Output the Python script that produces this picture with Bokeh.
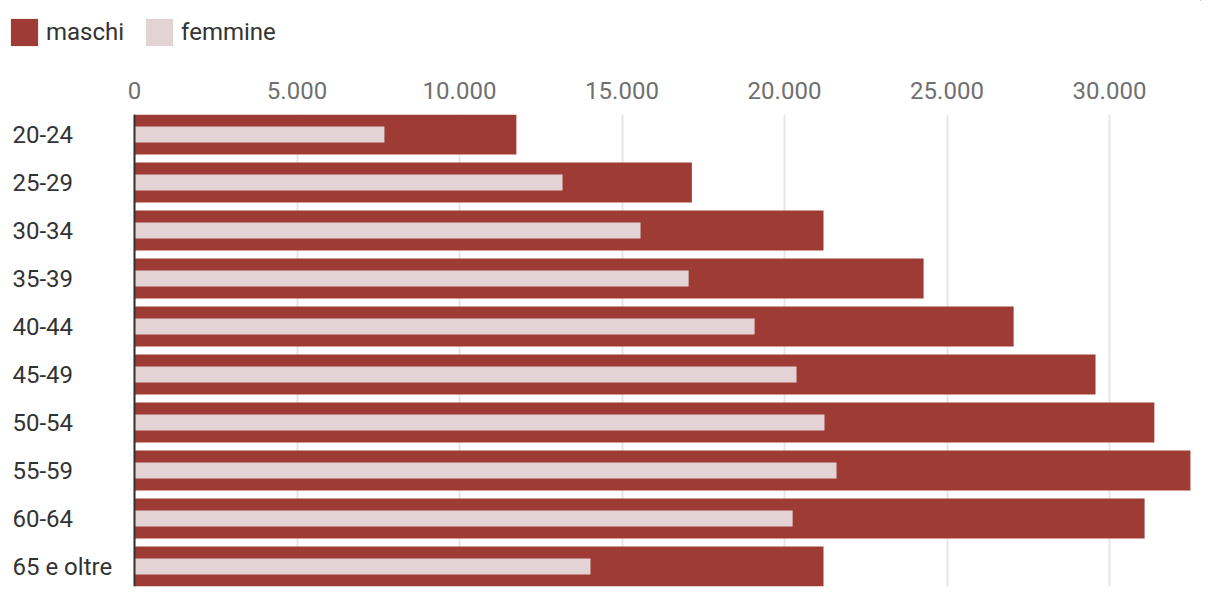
from bokeh.plotting import figure
from bokeh.models import (ColumnDataSource, Range1d, FixedTicker, Legend, LabelSet, Span)
from bokeh.layouts import column
from bokeh.core.properties import value
from bokeh.embed import file_html
from bokeh.resources import INLINE

# ---- data ----
categories = ["20-24", "25-29", "30-34", "35-39", "40-44",
              "45-49", "50-54", "55-59", "60-64", "65 e oltre"]
maschi = [11750, 17150, 21200, 24280, 27050, 29570, 31380, 32490, 31080, 21200]
femmine = [7690, 13170, 15570, 17050, 19080, 20370, 21230, 21600, 20250, 14030]
tick_values = [0, 5000, 10000, 15000, 20000, 25000, 30000]
tick_labels = ["0", "5.000", "10.000", "15.000", "20.000", "25.000", "30.000"]
series_names = ["maschi", "femmine"]

MASCHI_COLOR = "#9E3B34"
FEMMINE_COLOR = "#E4D3D4"
FONT = "Roboto"
FS = "24px"

# ---- layout constants (pixels) ----
W, H = 1220, 596
LEG_H = 60             # height of legend strip
ZERO_PX = 134          # where value 0 sits
RIGHT_PX = 1200        # right edge of plotting frame
PX_PER_UNIT = 0.0325
TOP, BOTTOM = 114, 586  # frame top / bottom in page pixels

n = len(categories)
source = ColumnDataSource(dict(
    y=list(range(n)),
    cat=categories,
    maschi=maschi,
    femmine=femmine,
))

# ---------- legend strip ----------
# ranges chosen so the bars themselves fall outside this strip; only the legend shows
leg = figure(width=W, height=LEG_H, x_range=Range1d(-2, -1), y_range=Range1d(-2, -1),
             x_axis_type=None, y_axis_type=None, output_backend="svg",
             toolbar_location=None, min_border=0)
leg.outline_line_color = None
leg.grid.visible = False
lr_m = leg.hbar(y="y", left=0, right="maschi", height=40 / 48, source=source,
                fill_color=MASCHI_COLOR, line_color=None)
lr_f = leg.hbar(y="y", left=0, right="femmine", height=16 / 48, source=source,
                fill_color=FEMMINE_COLOR, line_color=None)
# area legend glyphs are inset by 10% on each side -> 34px box gives ~27px square
legend = Legend(items=[(series_names[0], [lr_m]), (series_names[1], [lr_f])],
                orientation="horizontal", location=(7, LEG_H - 49),
                glyph_width=34, glyph_height=34, label_height=34,
                label_standoff=5, spacing=18, padding=0, margin=0,
                border_line_color=None, background_fill_alpha=0,
                label_text_font=FONT, label_text_font_size=FS,
                label_text_color="#333333")
leg.add_layout(legend)

# ---------- main chart ----------
MAIN_H = H - LEG_H
pad = (48 - 40) / 2 / 48
p = figure(
    width=W, height=MAIN_H,
    x_range=Range1d(-ZERO_PX / PX_PER_UNIT, (RIGHT_PX - ZERO_PX) / PX_PER_UNIT),
    y_range=Range1d(n - 1 + 0.5 - pad, -0.5 + pad),
    x_axis_location="above",
    output_backend="svg",
    toolbar_location=None,
    min_border_left=0, min_border_right=W - RIGHT_PX,
    min_border_top=TOP - LEG_H, min_border_bottom=H - BOTTOM,
)
p.outline_line_color = None
p.background_fill_color = "white"
p.border_fill_color = "white"

p.hbar(y="y", left=0, right="maschi", height=40 / 48, source=source,
       fill_color=MASCHI_COLOR, line_color=None)
p.hbar(y="y", left=0, right="femmine", height=16 / 48, source=source,
       fill_color=FEMMINE_COLOR, line_color=None)

xa = p.xaxis[0]
xa.ticker = FixedTicker(ticks=tick_values)
xa.major_label_overrides = {v: l for v, l in zip(tick_values, tick_labels)}
xa.axis_line_color = None
xa.major_tick_line_color = None
xa.minor_tick_line_color = None
xa.major_label_text_font = FONT
xa.major_label_text_font_size = FS
xa.major_label_text_color = "#707070"
xa.major_label_standoff = 10

p.yaxis.visible = False
p.ygrid.visible = False
p.xgrid.ticker = FixedTicker(ticks=tick_values)
p.xgrid.grid_line_color = "#e6e6e6"
p.xgrid.grid_line_width = 2

p.add_layout(Span(location=0, dimension="height", line_color="#333333", line_width=2))

labels = LabelSet(x=12, y="y", text="cat", x_units="screen", y_units="data",
                  source=source, text_align="left", text_baseline="middle",
                  text_font=value(FONT), text_font_size=FS, text_color="#333333")
p.add_layout(labels)

layout = column(leg, p, spacing=0)
open("out.html", "w").write(file_html(layout, INLINE))
